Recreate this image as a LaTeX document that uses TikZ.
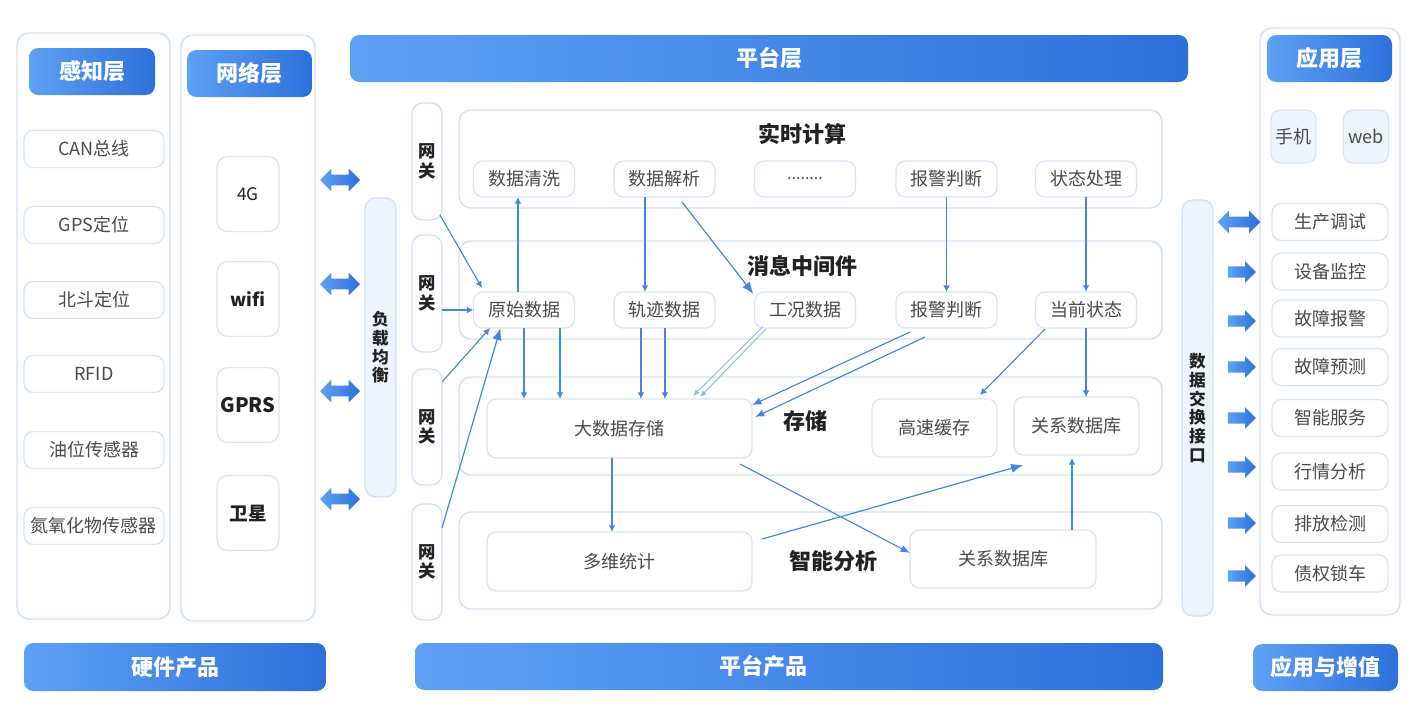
\documentclass[tikz,border=0pt]{standalone}
\usepackage{fontspec}
\setmainfont{Noto Sans CJK SC}
\usetikzlibrary{shapes.arrows,arrows.meta,calc}
\definecolor{bd}{HTML}{D3E1F4}
\definecolor{bdi}{HTML}{D9E5F5}
\definecolor{hL}{HTML}{5EA1F4}
\definecolor{hR}{HTML}{2D70DB}
\definecolor{ln}{HTML}{4386E4}
\definecolor{lnl}{HTML}{93B8EE}
\definecolor{tx}{HTML}{4A4A4A}
\definecolor{tt}{HTML}{222222}
\definecolor{lf}{HTML}{EEF4FC}
\begin{document}
\begin{tikzpicture}[x=0.75pt,y=-0.75pt,
 W/.style={minimum width=#1*0.75pt},
 H/.style={minimum height=#1*0.75pt},
 base/.style={inner sep=0pt,outer sep=0pt},
 panel/.style={base,draw=bd,line width=1.1pt,rounded corners=9pt,fill=white},
 item/.style={base,draw=bdi,line width=0.9pt,rounded corners=7pt,fill=white,text=tx,font=\fontsize{13.5pt}{16pt}\selectfont},
 net/.style={item,rounded corners=8pt,text=tt},
 hdr/.style={base,rounded corners=7pt,left color=hL,right color=hR,text=white,font=\bfseries\fontsize{16.5pt}{20pt}\selectfont},
 vbar/.style={base,draw=bd,line width=1pt,rounded corners=8pt,fill=lf,text=tt,align=center,font=\bfseries\fontsize{12.5pt}{14pt}\selectfont},
 gw/.style={vbar,fill=white},
 ttl/.style={base,text=tt,font=\bfseries\fontsize{16.5pt}{20pt}\selectfont},
 dbl/.style={base,double arrow,double arrow head extend=4.5pt,inner ysep=3.75pt,minimum height=30pt,left color=hL,right color=hR},
 sgl/.style={base,single arrow,single arrow head extend=3.9pt,inner ysep=4pt,minimum height=21pt,left color=hL,right color=hR},
 con/.style={draw=ln,line width=0.85pt,-{Latex[length=5pt,width=5pt]}},
 conm/.style={draw=ln,line width=0.85pt,-{Latex[length=7pt,width=5.5pt]}},
 conb/.style={draw=ln,line width=0.9pt,-{Latex[length=9pt,width=7pt]}},
 conl/.style={draw=lnl,line width=0.7pt,-{Latex[length=5pt,width=4pt]}},
]
\useasboundingbox (0,0) rectangle (1421,707);
\fill[white] (0,0) rectangle (1421,707);

% ---------- perception layer
\node[panel,W=153,H=586] (p1) at (93.5,326) {};
\node[hdr,W=126,H=47] (h1) at (92,71.5) {感知层};
\node[item,W=140,H=37] (s1) at (94,149) {CAN总线};
\node[item,W=140,H=37] (s2) at (94,225) {GPS定位};
\node[item,W=140,H=37] (s3) at (94,300) {北斗定位};
\node[item,W=140,H=37] (s4) at (94,374) {RFID};
\node[item,W=140,H=37] (s5) at (94,450) {油位传感器};
\node[item,W=140,H=37] (s6) at (94,526) {氮氧化物传感器};

% ---------- network layer
\node[panel,W=134,H=586] (p2) at (248,328) {};
\node[hdr,W=125,H=47] (h2) at (249.5,73.5) {网络层};
\node[net,W=62,H=75,font=\fontsize{13pt}{16pt}\selectfont] (n1) at (248,194) {4G};
\node[net,W=62,H=75,font=\bfseries\fontsize{13.5pt}{16pt}\selectfont] (n2) at (248,299) {wifi};
\node[net,W=62,H=75,font=\bfseries\fontsize{15pt}{18pt}\selectfont] (n3) at (248,405) {GPRS};
\node[net,W=62,H=75,font=\bfseries\fontsize{14pt}{17pt}\selectfont] (n4) at (248,513) {卫星};

\node[dbl] (da1) at (340,180) {};
\node[dbl] (da2) at (340,284) {};
\node[dbl] (da3) at (340,391) {};
\node[dbl] (da4) at (340,499) {};

\node[vbar,W=31,H=299] (lb) at (380.5,347.5) {负\\载\\均\\衡};

% ---------- platform layer
\node[hdr,W=838,H=47] (h3) at (769,58.5) {平台层};

\node[gw,W=30,H=117,font=\bfseries\fontsize{13pt}{14.5pt}\selectfont] (wg1) at (427,161.5) {网\\关};
\node[gw,W=30,H=117,font=\bfseries\fontsize{13pt}{14.5pt}\selectfont] (wg2) at (427,293.5) {网\\关};
\node[gw,W=30,H=116,font=\bfseries\fontsize{13pt}{14.5pt}\selectfont] (wg3) at (427,427) {网\\关};
\node[gw,W=30,H=116,font=\bfseries\fontsize{13pt}{14.5pt}\selectfont] (wg4) at (427,562) {网\\关};

\node[panel,W=703,H=98] (rt) at (810.5,159) {};
\node[panel,W=703,H=98] (mw) at (810.5,290) {};
\node[panel,W=703,H=98] (cc) at (810.5,426) {};
\node[panel,W=703,H=97] (zn) at (810.5,560.5) {};

\node[ttl] (t1) at (802,134) {实时计算};
\node[ttl] (t2) at (802,266) {消息中间件};
\node[ttl] (t3) at (805,421) {存储};
\node[ttl] (t4) at (833,561) {智能分析};

\node[item,W=101,H=36] (qx) at (524,179) {数据清洗};
\node[item,W=101,H=36] (jx) at (664.5,179) {数据解析};
\node[item,W=101,H=36,font=\fontsize{12pt}{14pt}\selectfont] (dots) at (805,179) {........};
\node[item,W=101,H=36] (bj1) at (946.5,179) {报警判断};
\node[item,W=101,H=36] (zt) at (1086,179) {状态处理};

\node[item,W=101,H=36] (yssj) at (524,310) {原始数据};
\node[item,W=101,H=36] (gj) at (664.5,310) {轨迹数据};
\node[item,W=101,H=36] (gk) at (805,310) {工况数据};
\node[item,W=101,H=36] (bj2) at (946.5,310) {报警判断};
\node[item,W=101,H=36] (dq) at (1086,310) {当前状态};

\node[item,W=265,H=59] (dsj) at (619.5,428.5) {大数据存储};
\node[item,W=125,H=58] (gs) at (934.5,428) {高速缓存};
\node[item,W=125,H=58] (gx1) at (1076.5,426) {关系数据库};

\node[item,W=265,H=59] (dw) at (619.5,561.5) {多维统计};
\node[item,W=186,H=58] (gx2) at (1003,559) {关系数据库};

% ---------- data exchange
\node[vbar,W=31,H=416] (de) at (1197.5,408) {数\\据\\交\\换\\接\\口};

% ---------- application layer
\node[panel,W=140,H=587] (p4) at (1330,321.5) {};
\node[hdr,W=125,H=47] (h4) at (1329.5,58.5) {应用层};
\node[item,W=45,H=53,fill=lf] (sj) at (1293.5,136.5) {手机};
\node[item,W=45,H=53,fill=lf] (web) at (1366,136.5) {web};
\node[item,W=116,H=37] (a1) at (1330,222) {生产调试};
\node[item,W=116,H=37] (a2) at (1330,271.5) {设备监控};
\node[item,W=116,H=37] (a3) at (1330,318.5) {故障报警};
\node[item,W=116,H=37] (a4) at (1330,367) {故障预测};
\node[item,W=116,H=37] (a5) at (1330,418) {智能服务};
\node[item,W=116,H=37] (a6) at (1330,471.5) {行情分析};
\node[item,W=116,H=37] (a7) at (1330,524) {排放检测};
\node[item,W=116,H=37] (a8) at (1330,573.5) {债权锁车};

\node[dbl,minimum height=32pt] (ra1) at (1239,222) {};
\node[sgl] (ra2) at (1239,272) {};
\node[sgl] (ra3) at (1239,321) {};
\node[sgl] (ra4) at (1239,367) {};
\node[sgl] (ra5) at (1239,418) {};
\node[sgl] (ra6) at (1239,467) {};
\node[sgl] (ra7) at (1239,523) {};
\node[sgl] (ra8) at (1239,576) {};

% ---------- bottom bars
\node[hdr,W=302,H=48] (b1) at (175,667) {硬件产品};
\node[hdr,W=748,H=47] (b2) at (789,666.5) {};
\node[base,text=white,font=\bfseries\fontsize{16.5pt}{20pt}\selectfont] (b2t) at (763,666.5) {平台产品};
\node[hdr,W=145,H=47] (b3) at (1325.5,667.5) {应用与增值};

% ---------- connectors
\draw[con] ($(wg1.south east)+(-2,-5)$) -- ($(yssj.north west)+(8.5,-4)$);
\draw[con] (wg2.east |- yssj.west) -- (yssj.west);
\draw[con] ($(wg3.north east)+(0,13)$) -- ($(yssj.south west)+(16.5,0)$);
\draw[conb] ($(wg4.north east)+(0,24)$) -- ($(yssj.south west)+(27,0)$);

\draw[con] ($(yssj.north)+(-6,0)$) -- ($(qx.south)+(-6,0)$);
\draw[con] (yssj.south) -- (yssj.south |- dsj.north);
\draw[con] ($(yssj.south)+(36,0)$) -- ($(yssj.south |- dsj.north)+(36,0)$);

\draw[con] ($(jx.south)+(-19.5,0)$) -- ($(gj.north)+(-19.5,0)$);
\draw[con] ($(gj.south)+(-23.5,0)$) -- ($(gj.south |- dsj.north)+(-23.5,0)$);
\draw[con] ($(gj.south)+(0.5,0)$) -- ($(gj.south |- dsj.north)+(0.5,0)$);
\draw[conb] ($(jx.south)+(17.5,5)$) -- ($(gk.north west)+(-1,2)$);

\draw[conl] ($(gk.south west)+(8,-1)$) -- ($(dsj.north east)+(-59,-3)$);
\draw[conl] ($(gk.south west)+(11.5,1)$) -- ($(dsj.north east)+(-52,-2)$);

\draw[conm] ($(bj2.south west)+(14,4)$) -- ($(dsj.north east)+(0,6)$);
\draw[conm] ($(bj2.south west)+(29,9)$) -- ($(dsj.north east)+(3,18)$);

\draw[con] (bj1.south) -- (bj2.north);
\draw[con] (zt.south) -- (dq.north);
\draw[con] ($(dq.south west)+(9.5,1)$) -- ($(gs.north east)+(-17,-4)$);
\draw[con] (dq.south) -- (dq.south |- gx1.north);

\draw[con] ($(dsj.south)+(-7.5,0)$) -- ($(dsj.south |- dw.north)+(-7.5,0)$);
\draw[conm] ($(dsj.south east)+(-12,6)$) -- ($(gx2.west)+(0,-6)$);
\draw[conb] ($(dw.north east)+(10,7)$) -- ($(gx1.south west)+(9,10)$);
\draw[con] ($(gx2.north)+(69,0)$) -- ($(gx1.south)+(-4.5,3)$);
\end{tikzpicture}
\end{document}
